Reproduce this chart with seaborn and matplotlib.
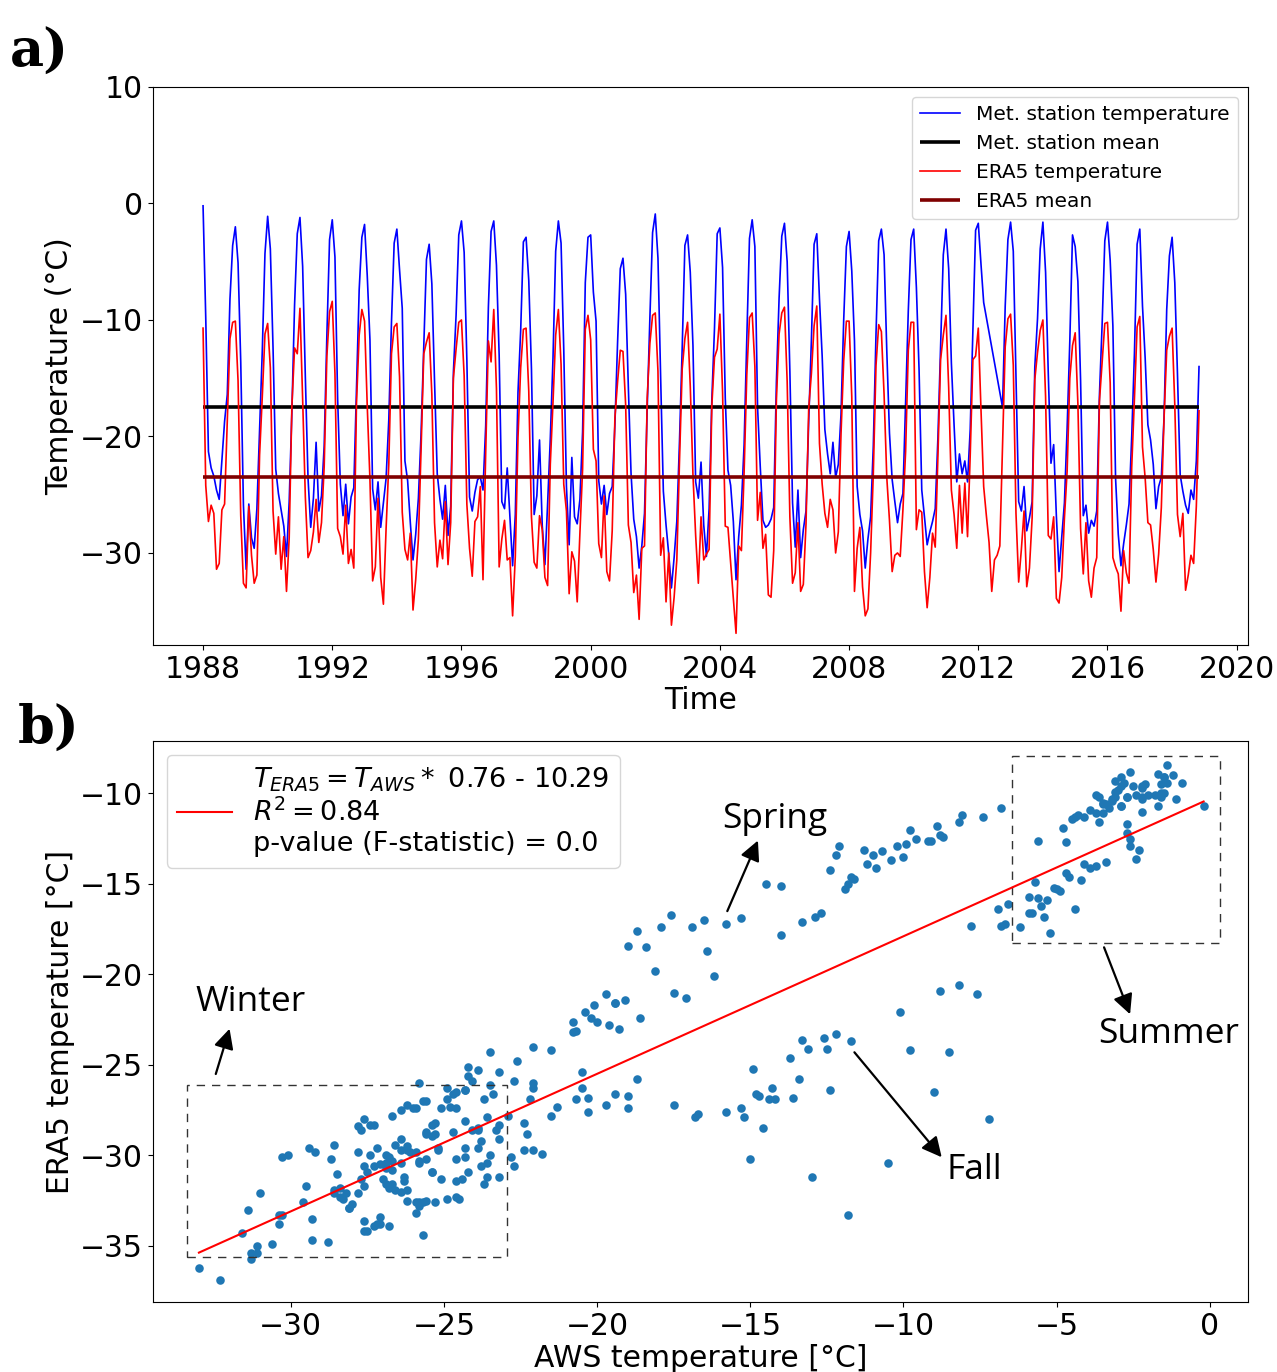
import numpy as np
import pandas as pd
import matplotlib
matplotlib.use('Agg')
import matplotlib.pyplot as plt
import seaborn as sns
from matplotlib.patches import Rectangle

nan = np.nan

years = list(range(1988, 2019))

# monthly mean temperature (Jan..Dec) at the met. station, one row per year
station_temp = [
    [-0.2, -9.8, -21.3, -22.7, -23.4, -24.6, -25.4, -22.1, -18.7, -16.4, -8.2, -3.6],    # 1988
    [-2.0, -5.1, -13.6, -25.9, -31.4, -25.8, -28.7, -29.6, -26.2, -19.4, -12.7, -4.3],   # 1989
    [-1.1, -3.9, -12.4, -22.8, -24.9, -26.3, -27.7, -30.3, -25.6, -17.9, -8.7, -2.6],    # 1990
    [-1.2, -5.4, -14.9, -23.6, -27.8, -25.3, -20.5, -26.4, -25.1, -20.8, -11.3, -3.1],   # 1991
    [-1.4, -4.6, -16.8, -24.1, -26.8, -24.1, -27.5, -25.2, -24.4, -15.8, -7.4, -2.9],    # 1992
    [-1.8, -6.2, -11.7, -24.5, -26.3, -23.9, -27.8, -25.7, -23.6, -18.6, -10.2, -3.4],   # 1993
    [-2.2, -5.7, -9.0, -22.1, -23.8, -27.4, -30.6, -28.4, -25.3, -19.7, -12.1, -4.8],    # 1994
    [-3.5, -6.9, -15.3, -23.2, -25.4, -27.1, -24.2, -28.5, -26.0, -14.5, -9.6, -2.7],    # 1995
    [-1.5, -4.2, -13.4, -25.2, -26.4, -24.8, -23.7, -23.5, -24.6, -19.1, -8.9, -2.4],    # 1996
    [-1.5, -5.3, -13.0, -25.6, -26.2, -22.7, -26.9, -31.1, -26.7, -16.2, -10.9, -3.3],   # 1997
    [-2.9, -6.6, -14.2, -26.7, -25.1, -20.3, -27.6, -31.0, -25.8, -20.2, -13.3, -4.1],   # 1998
    [-1.5, -3.4, -12.5, -24.3, -29.3, -21.8, -26.9, -27.5, -25.4, -19.6, -6.8, -2.9],    # 1999
    [-2.7, -7.6, -10.1, -23.8, -25.8, -24.2, -26.7, -24.9, -24.3, -19.0, -11.9, -5.6],   # 2000
    [-4.7, -7.8, -15.8, -23.2, -27.1, -28.6, -31.3, -29.4, -26.6, -17.6, -9.8, -2.5],    # 2001
    [-0.9, -4.7, -15.0, -24.7, -27.6, -30.1, -33.0, -30.4, -27.3, -20.4, -12.4, -3.6],   # 2002
    [-2.7, -5.9, -12.2, -23.9, -25.3, -22.2, -27.6, -30.3, -26.2, -16.9, -10.7, -2.6],   # 2003
    [-2.1, -5.5, -16.7, -22.9, -24.2, -27.3, -32.3, -28.6, -25.9, -20.7, -11.6, -3.0],   # 2004
    [-1.4, -3.7, -17.5, -22.6, -27.2, -27.8, -27.6, -27.1, -26.1, -15.3, -8.1, -2.8],    # 2005
    [-1.7, -5.0, -14.4, -25.7, -29.5, -24.6, -30.4, -28.0, -26.4, -18.7, -11.7, -3.5],   # 2006
    [-2.6, -8.2, -13.1, -19.4, -21.5, -23.2, -20.5, -23.5, -22.4, -18.1, -10.0, -3.7],   # 2007
    [-2.4, -5.8, -11.8, -24.3, -26.7, -28.1, -31.3, -28.8, -26.9, -20.8, -11.2, -3.2],   # 2008
    [-2.2, -4.4, -12.6, -19.7, -23.7, -25.6, -27.4, -25.8, -24.9, -17.1, -9.2, -3.1],    # 2009
    [-2.2, -7.2, -14.3, -24.6, -26.9, -29.3, -28.2, -27.3, -26.2, -20.1, -12.2, -4.4],   # 2010
    [-2.2, -5.6, -13.7, -19.0, -23.9, -21.5, -23.2, -22.1, -23.9, -19.4, -11.0, -2.3],   # 2011
    [-1.7, -5.2, -8.5, nan, nan, nan, nan, nan, nan, -17.5, -8.8, -3.1],                # 2012
    [-1.6, -4.1, -14.8, -25.6, -26.4, -24.3, -28.1, -27.0, -25.6, -14.0, -9.9, -3.9],    # 2013
    [-1.6, -5.9, -14.6, -22.3, -20.7, -26.8, -31.6, -28.6, -25.7, -19.3, -11.8, -2.7],   # 2014
    [-3.7, -6.7, -15.2, -26.8, -25.9, -28.3, -27.2, -27.7, -26.4, -16.5, -10.4, -3.2],   # 2015
    [-1.6, -4.9, -10.5, -23.6, -28.4, -31.1, -29.2, -27.6, -25.8, -20.0, -12.9, -3.5],   # 2016
    [-2.2, -8.8, -13.3, -19.0, -20.3, -22.4, -26.2, -24.3, -23.5, -18.4, -9.1, -4.5],    # 2017
    [-2.9, -6.8, -14.7, -23.3, -24.7, -25.9, -26.6, -24.6, -25.4, -22.1, -14.0],         # 2018
]

# monthly mean ERA5 temperature (Jan..Dec), one row per year
era5_temp = [
    [-10.7, -24.2, -27.3, -25.9, -26.6, -31.4, -30.9, -26.3, -25.8, -18.7, -11.6, -10.2],  # 1988
    [-10.1, -15.2, -26.8, -32.6, -33.0, -26.0, -30.2, -32.6, -31.9, -21.6, -16.6, -11.2],  # 1989
    [-10.3, -14.1, -26.4, -30.1, -26.9, -31.4, -28.6, -33.3, -28.7, -17.4, -12.4, -12.9],  # 1990
    [-9.0, -16.8, -25.2, -30.4, -29.8, -28.2, -25.4, -29.1, -27.4, -22.6, -13.1, -9.3],    # 1991
    [-8.4, -14.6, -27.9, -28.6, -30.1, -25.9, -30.9, -29.7, -31.3, -17.2, -11.3, -9.1],    # 1992
    [-10.1, -17.4, -23.7, -32.4, -31.2, -25.3, -32.1, -34.4, -27.9, -22.4, -12.9, -10.6],  # 1993
    [-10.3, -14.9, -26.5, -29.7, -30.6, -28.3, -34.9, -32.3, -28.8, -21.1, -12.9, -11.9],  # 1994
    [-11.1, -16.4, -27.4, -31.2, -28.9, -30.5, -25.6, -31.0, -27.4, -15.0, -12.5, -10.2],  # 1995
    [-10.0, -14.8, -25.8, -29.6, -32.0, -27.3, -26.9, -24.3, -32.3, -21.4, -11.8, -13.6],  # 1996
    [-9.1, -15.9, -31.2, -28.8, -27.2, -30.6, -30.4, -35.4, -30.3, -20.1, -14.1, -10.8],   # 1997
    [-10.7, -16.1, -26.9, -30.8, -31.3, -26.8, -28.0, -32.1, -32.8, -22.4, -17.1, -11.3],  # 1998
    [-9.1, -13.8, -24.1, -26.4, -33.5, -29.9, -30.7, -34.2, -28.3, -22.8, -10.8, -9.6],    # 1999
    [-11.7, -21.1, -22.1, -29.2, -30.4, -25.1, -31.6, -32.4, -28.1, -18.4, -15.3, -12.6],  # 2000
    [-12.7, -17.3, -27.6, -29.1, -33.4, -31.9, -35.7, -29.6, -29.4, -16.7, -12.0, -9.6],   # 2001
    [-9.4, -14.4, -30.2, -28.7, -34.2, -30.0, -36.2, -33.8, -30.6, -22.1, -14.2, -11.6],   # 2002
    [-10.2, -15.7, -23.3, -28.5, -32.6, -26.9, -30.6, -30.1, -29.7, -17.4, -13.2, -12.5],  # 2003
    [-9.5, -16.2, -27.7, -27.8, -30.9, -33.9, -36.9, -29.4, -29.8, -23.1, -14.7, -9.8],    # 2004
    [-9.4, -14.0, -27.2, -24.8, -29.6, -28.4, -33.6, -33.8, -29.8, -16.9, -11.2, -9.4],    # 2005
    [-8.9, -15.3, -26.9, -32.6, -31.7, -27.4, -33.3, -32.7, -27.5, -17.6, -14.6, -10.5],   # 2006
    [-8.8, -20.6, -24.1, -26.6, -27.8, -25.4, -26.3, -30.0, -28.2, -19.8, -13.5, -10.1],   # 2007
    [-10.1, -16.6, -33.3, -29.6, -27.8, -32.9, -35.4, -34.8, -30.0, -23.2, -13.9, -10.4],  # 2008
    [-11.0, -16.4, -23.5, -27.2, -31.6, -30.2, -30.0, -30.3, -26.3, -21.3, -12.6, -10.2],  # 2009
    [-10.2, -28.0, -26.3, -26.5, -31.6, -34.7, -32.1, -28.3, -29.5, -21.7, -13.4, -11.3],  # 2010
    [-9.6, -15.8, -24.6, -26.7, -29.6, -24.2, -28.3, -24.0, -28.6, -21.6, -13.4, -13.1],   # 2011
    [-10.7, -17.7, -24.3, -26.8, -29.1, -33.3, -30.6, -30.2, -29.4, -21.0, -12.3, -9.9],   # 2012
    [-9.5, -13.9, -26.6, -32.5, -29.7, -26.4, -32.9, -31.3, -27.0, -15.1, -12.8, -10.9],   # 2013
    [-10.0, -16.6, -28.5, -28.8, -26.9, -33.9, -34.3, -32.1, -27.0, -23.0, -15.0, -12.2],  # 2014
    [-11.1, -17.2, -27.9, -31.8, -27.4, -32.4, -33.8, -31.3, -30.4, -17.0, -13.7, -10.3],  # 2015
    [-10.2, -15.4, -30.4, -31.2, -31.8, -35.0, -29.8, -31.7, -32.6, -22.6, -16.8, -10.6],  # 2016
    [-9.7, -20.9, -23.6, -27.4, -27.6, -29.7, -32.5, -30.1, -26.1, -18.5, -12.6, -11.4],   # 2017
    [-10.7, -17.3, -26.7, -28.6, -26.6, -33.2, -31.9, -30.2, -30.9, -26.0, -17.8],         # 2018
]

station_mean = -17.47
era5_mean = -23.52

fit_slope = 0.76
fit_intercept = -10.29
fit_r2 = 0.84
fit_pvalue = 0.0

plt.rcParams['font.family'] = ['DejaVu Sans']

rows = []
for y, s_row, e_row in zip(years, station_temp, era5_temp):
    for m in range(len(s_row)):
        rows.append((y + m / 12, s_row[m], e_row[m]))
df = pd.DataFrame(rows, columns=['time', 'aws', 'era5'])

fig = plt.figure(figsize=(12.77, 13.72), dpi=100)
ax1 = fig.add_axes([0.1198, 0.5299, 0.8575, 0.4067])
ax2 = fig.add_axes([0.1198, 0.0510, 0.8575, 0.4089])

# ---- a) time series
t0, t1 = df['time'].min(), df['time'].max()
sns.lineplot(data=df.dropna(subset=['aws']), x='time', y='aws', color='blue', lw=1.2,
             estimator=None, label='Met. station temperature', ax=ax1)
ax1.hlines(station_mean, t0, t1, color='black', lw=2.6, label='Met. station mean')
sns.lineplot(data=df, x='time', y='era5', color='red', lw=1.2,
             estimator=None, label='ERA5 temperature', ax=ax1)
ax1.hlines(era5_mean, t0, t1, color='#7f0000', lw=2.6, label='ERA5 mean')

ax1.set_xlim(1986.45, 2020.35)
ax1.set_ylim(-37.9, 10)
ax1.set_xticks(range(1988, 2021, 4))
ax1.set_yticks([-30, -20, -10, 0, 10])
ax1.set_xlabel('Time', fontsize=21.5, labelpad=2)
ax1.set_ylabel('Temperature (°C)', fontsize=21.5)
ax1.tick_params(labelsize=21.5)
ax1.legend(loc='upper right', fontsize=14.5)

# ---- b) scatter + regression
sc = df.dropna()
sns.scatterplot(data=sc, x='aws', y='era5', s=38, color='#1f77b4', linewidth=0, ax=ax2)
xs = np.array([sc['aws'].min(), sc['aws'].max()])
fit_label = (r'$T_{ERA5} = T_{AWS} *$ ' + f'{fit_slope} - {abs(fit_intercept)}\n'
             + r'$R^2 = $' + f'{fit_r2}\n' + f'p-value (F-statistic) = {fit_pvalue}')
sns.lineplot(x=xs, y=fit_slope * xs + fit_intercept, color='red', lw=1.5, label=fit_label, ax=ax2)

ax2.set_xlim(-34.5, 1.25)
ax2.set_ylim(-38.1, -7.1)
ax2.set_xticks([-30, -25, -20, -15, -10, -5, 0])
ax2.set_yticks([-35, -30, -25, -20, -15, -10])
ax2.set_xlabel('AWS temperature [°C]', fontsize=21.5, labelpad=2)
ax2.set_ylabel('ERA5 temperature [°C]', fontsize=21.5)
ax2.tick_params(labelsize=21.5)
ax2.legend(loc='upper left', fontsize=19.5, handlelength=2)

# season boxes
for (x0, y0, x1, y1) in [(-33.4, -35.6, -22.95, -26.1), (-6.45, -18.25, 0.35, -7.95)]:
    ax2.add_patch(Rectangle((x0, y0), x1 - x0, y1 - y0, fill=False, ls=(0, (6, 5)),
                            lw=1.0, edgecolor='#333333'))

arrow = dict(arrowstyle='-|>', mutation_scale=30, lw=1.6, color='black', shrinkA=0, shrinkB=0)
note_font = dict(family=['Open Sans', 'DejaVu Sans'], fontsize=25.5, ha='center', va='center')
ax2.annotate('', xy=(-32.0, -23.0), xytext=(-32.45, -25.5), arrowprops=arrow)
ax2.text(-31.3, -21.5, 'Winter', **note_font)
ax2.annotate('', xy=(-14.75, -12.6), xytext=(-15.75, -16.5), arrowprops=arrow)
ax2.text(-14.2, -11.4, 'Spring', **note_font)
ax2.annotate('', xy=(-2.6, -22.2), xytext=(-3.45, -18.5), arrowprops=arrow)
ax2.text(-1.35, -23.3, 'Summer', **note_font)
ax2.annotate('', xy=(-8.75, -30.1), xytext=(-11.6, -24.3), arrowprops=arrow)
ax2.text(-7.7, -30.8, 'Fall', **note_font)

# panel letters
fig.text(0.008, 0.962, 'a)', fontsize=38, fontweight='bold', family=['DejaVu Serif'], va='center')
fig.text(0.014, 0.469, 'b)', fontsize=38, fontweight='bold', family=['DejaVu Serif'], va='center')

fig.savefig('out.png', dpi=100)
